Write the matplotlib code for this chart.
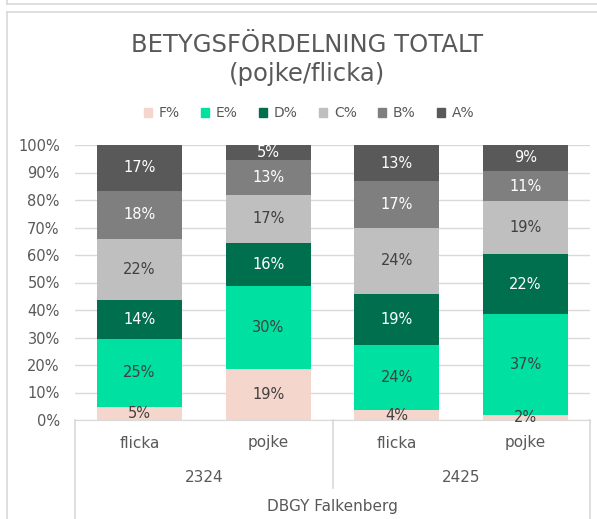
import numpy as np
import matplotlib.pyplot as plt
from matplotlib.lines import Line2D
from matplotlib.patches import Patch
from matplotlib.transforms import blended_transform_factory


# Values (share of each grade, in percent)
genders = ["flicka", "pojke", "flicka", "pojke"]
years = ["2324", "2425"]
school = "DBGY Falkenberg"
grades = ["F%", "E%", "D%", "C%", "B%", "A%"]
f_pct = [4.8, 18.6, 3.6, 1.8]
e_pct = [24.6, 30.1, 23.8, 36.8]
d_pct = [14.1, 15.8, 18.6, 21.6]
c_pct = [22.2, 17.2, 24.0, 19.3]
b_pct = [17.7, 12.9, 16.9, 11.1]
a_pct = [16.6, 5.4, 13.1, 9.4]
yticks = [0, 10, 20, 30, 40, 50, 60, 70, 80, 90, 100]

colors = ["#F4D6CC", "#00E0A0", "#006F4D", "#BFBFBF", "#7F7F7F", "#595959"]
text_colors = ["#404040", "#404040", "white", "#404040", "white", "white"]
grey = "#595959"
line_grey = "#D9D9D9"

W, H = 597, 519


def fx(px):
    return px / W


def fy(py):
    # pixel row from the top -> figure fraction
    return 1 - py / H


def main():
    plt.rcParams['font.family'] = ['DejaVu Sans']
    fig = plt.figure(figsize=(W / 100, H / 100), dpi=100)

    # chart frames (bottom of chart above, and this chart's border)
    frame = dict(color=line_grey, lw=1.2, transform=fig.transFigure)
    fig.add_artist(Line2D([fx(7), 1], [fy(4), fy(4)], **frame))
    fig.add_artist(Line2D([fx(7), fx(7)], [fy(4), 1], **frame))
    fig.add_artist(Line2D([fx(7), 1], [fy(12), fy(12)], **frame))
    fig.add_artist(Line2D([fx(7), fx(7)], [fy(12), 0], **frame))

    ax = fig.add_axes([fx(75), fy(420), fx(590) - fx(75), fy(145) - fy(420)])

    series = [f_pct, e_pct, d_pct, c_pct, b_pct, a_pct]
    x = np.arange(len(genders))
    bottom = np.zeros(len(genders))
    for vals, col, tcol in zip(series, colors, text_colors):
        vals = np.array(vals)
        bars = ax.bar(x, vals, 0.66, bottom=bottom, color=col, zorder=2)
        ax.bar_label(bars, labels=[f"{v:.0f}%" for v in vals],
                     label_type='center', color=tcol, fontsize=10.5)
        bottom += vals

    ax.set_xlim(-0.5, len(genders) - 0.5)
    ax.set_ylim(0, 100)
    ax.set_yticks(yticks)
    ax.set_yticklabels([f"{t}%" for t in yticks], color=grey, fontsize=10.5)
    ax.yaxis.grid(True, color=line_grey, lw=1, zorder=0)
    ax.tick_params(axis='y', length=0, pad=11)
    ax.set_xticks([])
    for s in ['top', 'right', 'left']:
        ax.spines[s].set_visible(False)
    ax.spines['bottom'].set_color(line_grey)

    # hierarchical category axis
    tr = blended_transform_factory(ax.transData, fig.transFigure)
    for i, g in enumerate(genders):
        ax.text(i, fy(443), g, transform=tr, ha='center', va='center',
                color=grey, fontsize=11)
    for j, yr in enumerate(years):
        ax.text(2 * j + 0.5, fy(477), yr, transform=tr, ha='center',
                va='center', color=grey, fontsize=11)
    ax.text(1.5, fy(507), school, transform=tr, ha='center', va='center',
            color=grey, fontsize=11)
    sep = dict(color=line_grey, lw=1.2, transform=tr, clip_on=False)
    ax.add_artist(Line2D([-0.5, -0.5], [fy(420), 0], **sep))
    ax.add_artist(Line2D([3.5, 3.5], [fy(420), 0], **sep))
    ax.add_artist(Line2D([1.5, 1.5], [fy(420), fy(488)], **sep))

    # title and legend
    fig.text(fx(307), fy(45), "BETYGSFÖRDELNING TOTALT", ha='center',
             va='center', color=grey, fontsize=17.5)
    fig.text(fx(307), fy(74), "(pojke/flicka)", ha='center',
             va='center', color=grey, fontsize=17.5)
    handles = [Patch(color=c) for c in colors]
    fig.legend(handles, grades, loc='center',
               bbox_to_anchor=(fx(309), fy(113)), ncol=6, frameon=False,
               handlelength=0.6, handleheight=0.6, handletextpad=0.5,
               columnspacing=1.5, fontsize=10, labelcolor=grey)

    fig.savefig("out.png", dpi=100)


if __name__ == "__main__":
    main()
